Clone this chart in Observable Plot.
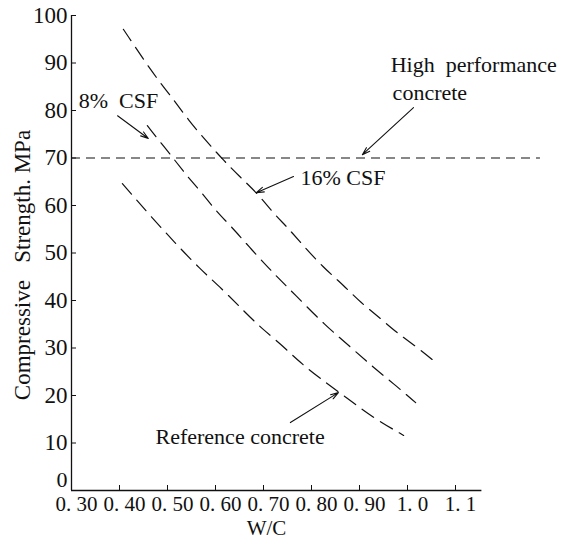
<!DOCTYPE html>
<html><head><meta charset="utf-8">
<script src="https://cdn.jsdelivr.net/npm/d3@7"></script>
<script src="https://cdn.jsdelivr.net/npm/@observablehq/plot@0.6"></script>
<style>body{margin:0;background:#fff} svg, svg text{font-family:"Liberation Serif","DejaVu Serif",serif !important}</style>
</head><body><div id="chart"></div>
<script>
// 16% CSF
const wcCSF16  = [0.408,0.475,0.510,0.544,0.583,0.617,0.648,0.688,0.721,0.750,0.777,0.825,0.867,0.902,0.944,0.979,1.021,1.062];
const strCSF16 = [97.1,87.0,82.7,77.9,73.3,69.5,66.3,62.5,58.3,55.4,52.2,46.9,43.2,39.6,36.2,33.1,30.1,26.7];
// 8% CSF
const wcCSF8   = [0.458,0.521,0.540,0.573,0.604,0.631,0.677,0.721,0.763,0.829,0.885,0.929,0.971,1.017];
const strCSF8  = [76.8,68.8,66.3,62.5,58.5,55.8,50.5,45.7,41.5,34.7,29.9,25.9,22.5,18.5];
// Reference concrete
const wcRef    = [0.406,0.460,0.515,0.567,0.613,0.656,0.692,0.735,0.777,0.815,0.875,0.927,0.992];
const strRef   = [64.6,58.3,52.2,46.7,42.5,38.1,34.5,30.9,26.9,23.8,19.4,15.4,11.6];
// High performance concrete threshold
const hpcLevel = [70];
const hpcRange = [0.30, 1.277];

const xTicks = [0.30,0.40,0.50,0.60,0.70,0.80,0.90,1.0,1.1];
const xTickLabels = ["0. 30","0. 40","0. 50","0. 60","0. 70","0. 80","0. 90","1. 0","1. 1"];
const yTicks = [0,10,20,30,40,50,60,70,80,90,100];
const xAxisExtent = [0.30, 1.155];

const labels = [
  {text: "High\u00a0\u00a0performance", x: 0.965, y: 89.6},
  {text: "concrete", x: 0.969, y: 83.7},
  {text: "16%\u00a0CSF", x: 0.777, y: 65.9},
  {text: "8%\u00a0\u00a0CSF", x: 0.315, y: 82.1},
  {text: "Reference concrete", x: 0.475, y: 11.2}
];
const arrows = [
  {x1: 1.0125, y1: 80.6, x2: 0.906, y2: 70.7},
  {x1: 0.7625, y1: 66.1, x2: 0.685, y2: 62.7},
  {x1: 0.396, y1: 78.9, x2: 0.460, y2: 74.1},
  {x1: 0.756, y1: 14.3, x2: 0.856, y2: 20.6}
];

const FF = "Liberation Serif, DejaVu Serif, serif";
const toRows = (xs, ys) => xs.map((x, i) => ({x, y: ys[i]}));
const labelMap = new Map(xTicks.map((t, i) => [t, xTickLabels[i]]));

const chart = Plot.plot({
  width: 582, height: 539,
  marginLeft: 71, marginRight: 31, marginTop: 15, marginBottom: 49,
  x: {domain: [0.3, 1.3], axis: null},
  y: {domain: [0, 100], axis: null},
  style: {fontSize: "22px", fontFamily: FF, color: "#111", background: "#fff"},
  marks: [
    Plot.ruleX([0.3], {y1: 0, y2: 100, stroke: "#111", strokeWidth: 1.3}),
    Plot.ruleY([0], {x1: xAxisExtent[0], x2: xAxisExtent[1], stroke: "#111", strokeWidth: 1.3}),
    Plot.axisY(yTicks.slice(1), {anchor: "left", tickSize: 5, dx: 5, tickFormat: () => "", label: null, stroke: "#111"}),
    Plot.axisY(yTicks.slice(1), {anchor: "left", tickSize: 0, tickPadding: 4, label: null, fill: "#111", fontFamily: FF, fontSize: 23}),
    Plot.axisY(yTicks.slice(0, 1), {anchor: "left", tickSize: 0, tickPadding: 4, dy: -11, label: null, fill: "#111", fontFamily: FF, fontSize: 22}),
    Plot.axisX(xTicks.slice(1), {anchor: "bottom", tickSize: 5, dy: -5, tickFormat: () => "", label: null, stroke: "#111"}),
    Plot.axisX(xTicks, {anchor: "bottom", tickSize: 0, tickPadding: 6, dx: 5, tickFormat: d => labelMap.get(d), label: null, fill: "#111", fontFamily: FF, fontSize: 21}),
    Plot.ruleY(hpcLevel, {x1: hpcRange[0], x2: hpcRange[1], stroke: "#111", strokeWidth: 1.1, strokeDasharray: "9,6"}),
    Plot.line(toRows(wcCSF16, strCSF16), {x: "x", y: "y", curve: "basis", stroke: "#111", strokeWidth: 1.2, strokeDasharray: "14,8"}),
    Plot.line(toRows(wcCSF8, strCSF8), {x: "x", y: "y", curve: "basis", stroke: "#111", strokeWidth: 1.2, strokeDasharray: "14,8"}),
    Plot.line(toRows(wcRef, strRef), {x: "x", y: "y", curve: "basis", stroke: "#111", strokeWidth: 1.2, strokeDasharray: "14,8"}),
    Plot.arrow(arrows, {x1: "x1", y1: "y1", x2: "x2", y2: "y2", stroke: "#111", strokeWidth: 1.1, headLength: 11, headAngle: 35}),
    Plot.text(labels, {x: "x", y: "y", text: "text", textAnchor: "start", fill: "#111", fontFamily: FF, fontSize: 22}),
    Plot.text(["Compressive\u00a0\u00a0\u00a0Strength. MPa"], {frameAnchor: "left", textAnchor: "middle", rotate: -90, dx: -49, dy: 12, fill: "#111", fontFamily: FF, fontSize: 23}),
    Plot.text(["W/C"], {frameAnchor: "bottom", dx: -45, dy: 44, fill: "#111", fontFamily: FF, fontSize: 21})
  ]
});
document.getElementById("chart").appendChild(chart);
</script>
</body></html>
